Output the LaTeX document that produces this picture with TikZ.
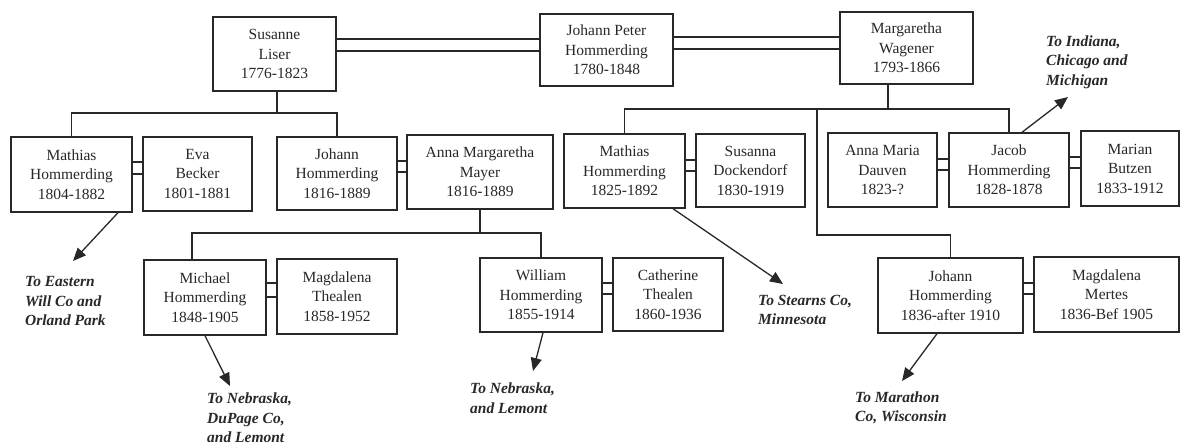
\documentclass[tikz,border=0pt]{standalone}
\usepackage{fontspec}
\setmainfont{Liberation Serif}
\usetikzlibrary{arrows.meta}
\definecolor{ink}{RGB}{40,40,40}
\tikzset{
  pbox/.style={draw=ink, line width=1.4pt, text=ink, align=center, inner sep=0pt,
    font=\fontsize{15.5}{19.5}\selectfont},
  link/.style={draw=ink, line width=1.2pt},
  arr/.style={draw=ink, line width=1.3pt, -{Triangle[length=13pt,width=11pt]}},
  dest/.style={text=ink, align=left, anchor=west, inner sep=0pt,
    font=\fontsize{15.5}{19.5}\selectfont\bfseries\itshape}
}
\begin{document}
\begin{tikzpicture}[x=1pt,y=-1pt]
\useasboundingbox[fill=white] (0,0) rectangle (1184,446);
% generation 1
\node[pbox, minimum width=123, minimum height=74] (S) at (274.5,54) {Susanne\\Liser\\1776-1823};
\node[pbox, minimum width=133, minimum height=72] (JP) at (606.5,50) {Johann Peter\\Hommerding\\1780-1848};
\node[pbox, minimum width=133, minimum height=72] (MW) at (906.5,48) {Margaretha\\Wagener\\1793-1866};
% generation 2
\node[pbox, minimum width=121, minimum height=75] (M04) at (71.5,174.5) {Mathias\\Hommerding\\1804-1882};
\node[pbox, minimum width=109, minimum height=74] (EB) at (197.5,174) {Eva\\Becker\\1801-1881};
\node[pbox, minimum width=120, minimum height=73] (J16) at (337,173.5) {Johann\\Hommerding\\1816-1889};
\node[pbox, minimum width=146, minimum height=74] (AMM) at (480,172) {Anna Margaretha\\Mayer\\1816-1889};
\node[pbox, minimum width=121, minimum height=74] (M25) at (624.5,171) {Mathias\\Hommerding\\1825-1892};
\node[pbox, minimum width=109, minimum height=73] (SD) at (750.5,170.5) {Susanna\\Dockendorf\\1830-1919};
\node[pbox, minimum width=109, minimum height=74] (AMD) at (882.5,170) {Anna Maria\\Dauven\\1823-?};
\node[pbox, minimum width=120, minimum height=74] (JH) at (1009,170) {Jacob\\Hommerding\\1828-1878};
\node[pbox, minimum width=98, minimum height=75] (MB) at (1130,168.5) {Marian\\Butzen\\1833-1912};
% generation 3
\node[pbox, minimum width=122, minimum height=75] (MH) at (205,297.5) {Michael\\Hommerding\\1848-1905};
\node[pbox, minimum width=120, minimum height=75] (MT) at (337,296.5) {Magdalena\\Thealen\\1858-1952};
\node[pbox, minimum width=122, minimum height=74] (WH) at (541,295) {William\\Hommerding\\1855-1914};
\node[pbox, minimum width=110, minimum height=73] (CT) at (668,294.5) {Catherine\\Thealen\\1860-1936};
\node[pbox, minimum width=145, minimum height=75] (J36) at (950.5,295.5) {Johann\\Hommerding\\1836-after 1910};
\node[pbox, minimum width=145, minimum height=75] (MM) at (1106.5,294.5) {Magdalena\\Mertes\\1836-Bef 1905};
% marriage double lines
\foreach \a/\b/\ya/\yb in {S/JP/39/51, JP/MW/37/49, M04/EB/162/174, J16/AMM/161/172,
  M25/SD/160/171, AMD/JH/159/170, JH/MB/157/168, MH/MT/283/297, WH/CT/283/294, J36/MM/283/294}{
  \draw[link] (\a.east |- 0,\ya) -- (\b.west |- 0,\ya);
  \draw[link] (\a.east |- 0,\yb) -- (\b.west |- 0,\yb);
}
% descent lines
\draw[link] ([xshift=2.5]S.south) -- ([xshift=2.5]S.south |- 0,113);
\draw[link] (M04.north) -- (M04.north |- 0,113) -- (J16.north |- 0,113) -- (J16.north);
\draw[link] ([xshift=-18.5]MW.south) -- ([xshift=-18.5]MW.south |- 0,109);
\draw[link] (M25.north) -- (M25.north |- 0,109) -- (JH.north |- 0,109) -- (JH.north);
\coordinate (br) at (817,109);
\draw[link] (br) -- (br |- 0,235) -- (J36.north |- 0,235) -- (J36.north);
\draw[link] (AMM.south) -- (AMM.south |- 0,233);
\draw[link] ([xshift=-13]MH.north) -- ([xshift=-13]MH.north |- 0,233) -- (WH.north |- 0,233) -- (WH.north);
% migration arrows
\coordinate (tE) at (73,261);
\coordinate (tN1) at (230,386);
\coordinate (tN2) at (533,371);
\coordinate (tS) at (783,284);
\coordinate (tM) at (902,381);
\coordinate (tI) at (1068,97);
\draw[arr] ([xshift=46.5]M04.south) -- (tE);
\draw[arr] (MH.south) -- (tN1);
\draw[arr] ([xshift=2]WH.south) -- (tN2);
\draw[arr] ([xshift=48.5]M25.south) -- (tS);
\draw[arr] ([xshift=-13.5]J36.south) -- (tM);
\draw[arr] ([xshift=13]JH.north) -- (tI);
% destination labels
\node[dest] (dE) at (25,301.5) {To Eastern\\Will Co and\\Orland Park};
\node[dest] (dN1) at (207,418) {To Nebraska,\\DuPage Co,\\and Lemont};
\node[dest] (dN2) at (470,398) {To Nebraska,\\and Lemont};
\node[dest] (dS) at (758,310) {To Stearns Co,\\Minnesota};
\node[dest] (dM) at (855,408) {To Marathon\\Co, Wisconsin};
\node[dest] (dI) at (1046,62) {To Indiana,\\Chicago and\\Michigan};
\end{tikzpicture}
\end{document}
